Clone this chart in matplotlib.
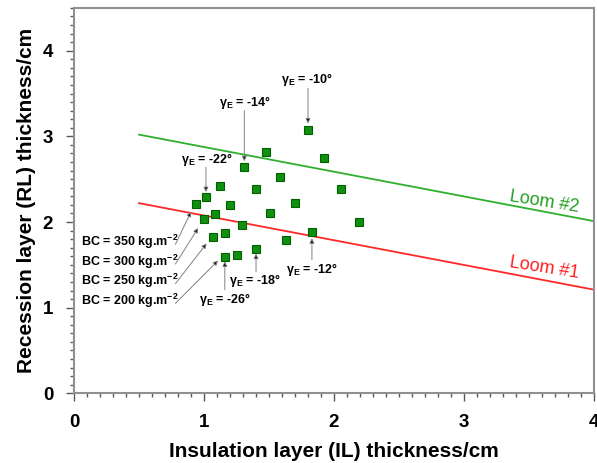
import numpy as np
import matplotlib
matplotlib.use('Agg')
import matplotlib.pyplot as plt
from matplotlib.ticker import MultipleLocator

plt.rcParams['font.family'] = ['Liberation Sans', 'DejaVu Sans']
plt.rcParams['mathtext.fontset'] = 'custom'
plt.rcParams['mathtext.rm'] = 'Liberation Sans'
plt.rcParams['mathtext.bf'] = 'Liberation Sans:bold'

# measured IL / RL thickness pairs (cm)
il = [1.80, 1.48, 1.92, 1.31, 1.585, 1.12, 1.40, 2.05, 1.015, 0.94, 1.20, 1.70,
      1.51, 1.085, 1.00, 1.29, 2.19, 1.83, 1.165, 1.07, 1.63, 1.40, 1.256, 1.16]
rl = [3.08, 2.82, 2.75, 2.64, 2.53, 2.42, 2.39, 2.39, 2.29, 2.21, 2.20, 2.22,
      2.10, 2.09, 2.03, 1.96, 2.00, 1.88, 1.87, 1.82, 1.79, 1.69, 1.62, 1.59]

# loom limit lines: (IL start, RL start), (IL end, RL end)
loom1_x = [0.5, 4.0]
loom1_y = [2.22, 1.21]
loom2_x = [0.5, 4.0]
loom2_y = [3.02, 2.01]

# bulk density labels -> point they refer to
bc_vals = [350, 300, 250, 200]
bc_text_y = [1.84, 1.61, 1.38, 1.15]
bc_target = [(0.90, 2.12), (0.955, 1.93), (1.02, 1.75), (1.108, 1.55)]

# erosion angle labels
gam_vals = [-10, -14, -22, -12, -18, -26]
gam_text = [(1.79, 3.66), (1.315, 3.39), (1.02, 2.73), (1.83, 1.45), (1.39, 1.32), (1.16, 1.10)]
gam_tip = [(1.80, 3.15), (1.31, 2.71), (1.015, 2.35), (1.83, 1.81), (1.40, 1.63), (1.16, 1.54)]
gam_tail = [(1.80, 3.56), (1.31, 3.30), (1.015, 2.64), (1.83, 1.56), (1.40, 1.42), (1.16, 1.21)]

fig = plt.figure(figsize=(5.97, 4.63), dpi=100)
ax = fig.add_axes([0.124, 0.1505, 0.871, 0.8325])

ax.plot(loom2_x, loom2_y, color='#2eb02e', lw=1.3)
ax.plot(loom1_x, loom1_y, color='#ff2828', lw=1.3)
ax.plot(il, rl, 's', ms=6.3, mfc='#109010', mec='#006000', mew=0.8, ls='none', zorder=3)

ax.text(3.62, 2.23, 'Loom #2', color='#22a022', fontsize=13, rotation=-9,
        ha='center', va='center')
ax.text(3.62, 1.46, 'Loom #1', color='#ff2020', fontsize=13, rotation=-9,
        ha='center', va='center')

arrow = dict(arrowstyle='-|>', ec='0.5', fc='black', lw=0.7, mutation_scale=7,
             shrinkA=0, shrinkB=0)

for v, ty, tgt in zip(bc_vals, bc_text_y, bc_target):
    ax.text(0.05, ty - 0.07, 'BC = %d kg.m$^{\\mathbf{-2}}$' % v, fontsize=9,
            fontweight='bold', ha='left', va='center')
    ax.annotate('', xy=tgt, xytext=(0.78, ty - 0.1), arrowprops=arrow)

for v, (tx, ty), tip, tail in zip(gam_vals, gam_text, gam_tip, gam_tail):
    ax.text(tx, ty, 'γ$_{\\mathbf{E}}$ = %d°' % v, fontsize=9,
            fontweight='bold', ha='center', va='center')
    ax.annotate('', xy=tip, xytext=tail, arrowprops=arrow)

ax.set_xlim(0, 4)
ax.set_ylim(0, 4.5)
ax.set_xticks([0, 1, 2, 3, 4])
ax.set_yticks([0, 1, 2, 3, 4])
ax.xaxis.set_minor_locator(MultipleLocator(0.1))
ax.yaxis.set_minor_locator(MultipleLocator(0.1))
ax.tick_params(which='major', direction='out', length=6, width=1, color='0.35',
               labelsize=13.5, pad=9)
ax.tick_params(which='minor', direction='out', length=3, width=1, color='0.35')
for lbl in ax.get_xticklabels() + ax.get_yticklabels():
    lbl.set_fontweight('bold')

for s in ax.spines.values():
    s.set_color('#909090')
    s.set_linewidth(1.5)

ax.set_xlabel('Insulation layer (IL) thickness/cm', fontsize=15, fontweight='bold', labelpad=8)
ax.set_ylabel('Recession layer (RL) thickness/cm', fontsize=15, fontweight='bold', labelpad=5)

fig.savefig('out.png', dpi=100)
